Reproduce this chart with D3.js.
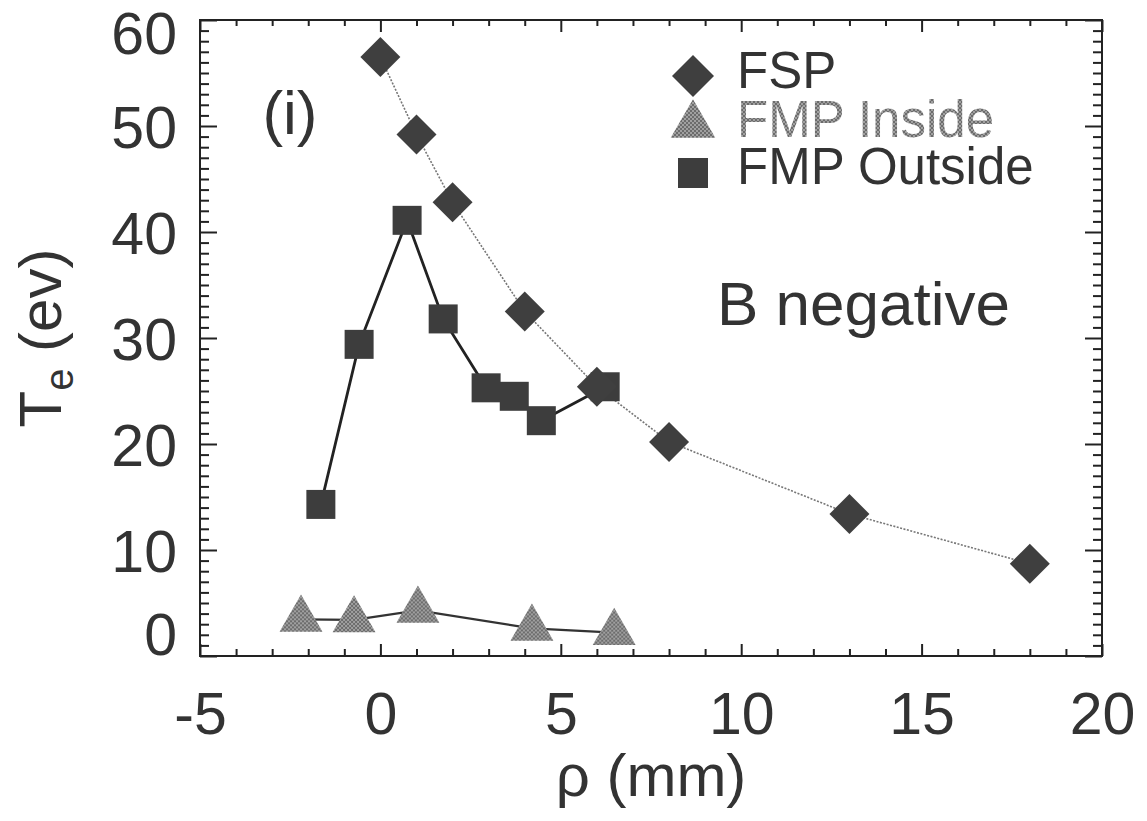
<!DOCTYPE html>
<meta charset="utf-8">
<style>
body { margin: 0; background: #fff; }
svg { font-family: "Liberation Sans", Arial, Helvetica, sans-serif; }
.frame { fill: none; stroke: #222; stroke-width: 2px; }
.axis path { display: none; }
.axis line { stroke: #222; stroke-width: 2px; }
.axis text { font-size: 59px; fill: #333; }
</style>
<svg width="1147" height="821"></svg>
<script src="https://cdn.jsdelivr.net/npm/d3@7"></script>
<script>

// FSP (diamonds)
var fspRho = [0, 1, 2, 4, 6, 8, 13, 18];
var fspTe  = [56.5, 49.2, 42.8, 32.5, 25.4, 20.2, 13.4, 8.7];

// FMP Inside (triangles)
var insideRho = [-2.2, -0.73, 1.04, 4.2, 6.48];
var insideTe  = [3.46, 3.4, 4.3, 2.6, 2.2];

// FMP Outside (squares)
var outsideRho = [-1.65, -0.59, 0.74, 1.74, 2.93, 3.71, 4.46, 6.23];
var outsideTe  = [14.3, 29.4, 41.1, 31.8, 25.3, 24.5, 22.2, 25.4];

var xTicks = [-5, 0, 5, 10, 15, 20];
var yTicks = [0, 10, 20, 30, 40, 50, 60];
var legendLabels = ["FSP", "FMP Inside", "FMP Outside"];

var svg = d3.select("svg");

var x = d3.scaleLinear().domain([-5, 20]).range([200, 1102]);
var y = d3.scaleLinear().domain([0, 60]).range([656, 20]);

var xMinor = d3.range(-5, 21, 1).filter(function(v) { return v % 5 != 0; });
var yMinor = d3.range(0, 61, 1).filter(function(v) { return v % 10 != 0; });

// hatch for the grey triangles
var defs = svg.append("defs");
var pat = defs.append("pattern")
    .attr("id", "hatch")
    .attr("patternUnits", "userSpaceOnUse")
    .attr("width", 4).attr("height", 4);
pat.append("rect").attr("width", 4).attr("height", 4).attr("fill", "#a0a0a0");
pat.append("path").attr("d", "M0,4 L4,0 M0,0 L4,4").attr("stroke", "#666").attr("stroke-width", 0.9);

// minor ticks, all four sides, pointing in
svg.append("g").attr("class", "axis")
    .attr("transform", "translate(0,656)")
    .call(d3.axisBottom(x).tickValues(xMinor).tickSize(-7).tickFormat(""));
svg.append("g").attr("class", "axis")
    .attr("transform", "translate(0,20)")
    .call(d3.axisTop(x).tickValues(xMinor).tickSize(-6).tickFormat(""));
svg.append("g").attr("class", "axis")
    .attr("transform", "translate(200,0)")
    .call(d3.axisLeft(y).tickValues(yMinor).tickSize(-9).tickFormat(""));
svg.append("g").attr("class", "axis")
    .attr("transform", "translate(1102,0)")
    .call(d3.axisRight(y).tickValues(yMinor).tickSize(-9).tickFormat(""));

// major ticks + labels
var plain = function(d) { return String(d); };

var xAxis = svg.append("g").attr("class", "axis")
    .attr("transform", "translate(0,656)")
    .call(d3.axisBottom(x).tickValues(xTicks).tickSize(-12).tickPadding(36).tickFormat(plain));
xAxis.selectAll("text").attr("dy", "0.71em");

svg.append("g").attr("class", "axis")
    .attr("transform", "translate(0,20)")
    .call(d3.axisTop(x).tickValues(xTicks).tickSize(-12).tickFormat(""));

var yAxis = svg.append("g").attr("class", "axis")
    .attr("transform", "translate(200,0)")
    .call(d3.axisLeft(y).tickValues(yTicks).tickSize(-17).tickPadding(23).tickFormat(plain));
// end labels are nudged inside the frame, as in the original
yAxis.selectAll("text").attr("dy", function(d) {
    if (d == 60) return "0.56em";
    if (d == 0) return "-0.02em";
    return "0.36em";
});

svg.append("g").attr("class", "axis")
    .attr("transform", "translate(1102,0)")
    .call(d3.axisRight(y).tickValues(yTicks).tickSize(-17).tickFormat(""));

svg.append("rect").attr("class", "frame")
    .attr("x", 200).attr("y", 20).attr("width", 902).attr("height", 636);

// axis titles
svg.append("text")
    .attr("x", 651).attr("y", 796)
    .attr("text-anchor", "middle")
    .style("font-size", "60px").style("fill", "#333")
    .text("ρ (mm)");

var yt = svg.append("text")
    .attr("transform", "translate(61,338) rotate(-90)")
    .attr("text-anchor", "middle")
    .style("font-size", "60px").style("fill", "#333");
yt.append("tspan").text("T");
yt.append("tspan").attr("dy", 12).style("font-size", "40px").text("e");
yt.append("tspan").attr("dy", -12).text(" (ev)");

// lines
var lineGen = d3.line()
    .x(function(d) { return x(d[0]); })
    .y(function(d) { return y(d[1]); });

var fsp = d3.zip(fspRho, fspTe);
var inside = d3.zip(insideRho, insideTe);
var outside = d3.zip(outsideRho, outsideTe);

svg.append("path").datum(fsp)
    .attr("d", lineGen)
    .attr("fill", "none").attr("stroke", "#777")
    .attr("stroke-width", 1.6).attr("stroke-dasharray", "2,1.5");

svg.append("path").datum(outside)
    .attr("d", lineGen)
    .attr("fill", "none").attr("stroke", "#222").attr("stroke-width", 2.8);

svg.append("path").datum(inside)
    .attr("d", lineGen)
    .attr("fill", "none").attr("stroke", "#333").attr("stroke-width", 2.2);

// markers
var diamond = d3.symbol().type(d3.symbolSquare).size(800);
var square = d3.symbol().type(d3.symbolSquare).size(841);
var tri = d3.symbol().type(d3.symbolTriangle).size(800);

svg.append("g").selectAll("path")
    .data(outside)
    .enter().append("path")
    .attr("d", square)
    .attr("transform", function(d) { return "translate(" + x(d[0]) + "," + y(d[1]) + ")"; })
    .attr("fill", "#3d3d3d");

svg.append("g").selectAll("path")
    .data(fsp)
    .enter().append("path")
    .attr("d", diamond)
    .attr("transform", function(d) { return "translate(" + x(d[0]) + "," + y(d[1]) + ") rotate(45)"; })
    .attr("fill", "#3f3f3f");

svg.append("g").selectAll("path")
    .data(inside)
    .enter().append("path")
    .attr("d", tri)
    .attr("transform", function(d) { return "translate(" + x(d[0]) + "," + y(d[1]) + ")"; })
    .attr("fill", "url(#hatch)");

// annotations
svg.append("text")
    .attr("x", 290).attr("y", 134)
    .attr("text-anchor", "middle")
    .style("font-size", "62px").style("fill", "#333")
    .text("(i)");

svg.append("text")
    .attr("x", 717).attr("y", 325)
    .style("font-size", "62px").style("fill", "#333")
    .text("B negative");

// legend
var lg = svg.append("g");
lg.append("path")
    .attr("d", d3.symbol().type(d3.symbolSquare).size(882))
    .attr("transform", "translate(693,76) rotate(45)")
    .attr("fill", "#3f3f3f");
lg.append("path")
    .attr("d", d3.symbol().type(d3.symbolTriangle).size(860))
    .attr("transform", "translate(693,125)")
    .attr("fill", "url(#hatch)");
lg.append("path")
    .attr("d", d3.symbol().type(d3.symbolSquare).size(900))
    .attr("transform", "translate(693,173)")
    .attr("fill", "#3d3d3d");

var legendY = [88, 137, 184];
var legendFill = ["#333", "url(#hatch)", "#333"];
lg.selectAll("text")
    .data(legendLabels)
    .enter().append("text")
    .attr("x", 737)
    .attr("y", function(d, i) { return legendY[i]; })
    .style("font-size", "51px")
    .style("fill", function(d, i) { return legendFill[i]; })
    .text(function(d) { return d; });

</script>
